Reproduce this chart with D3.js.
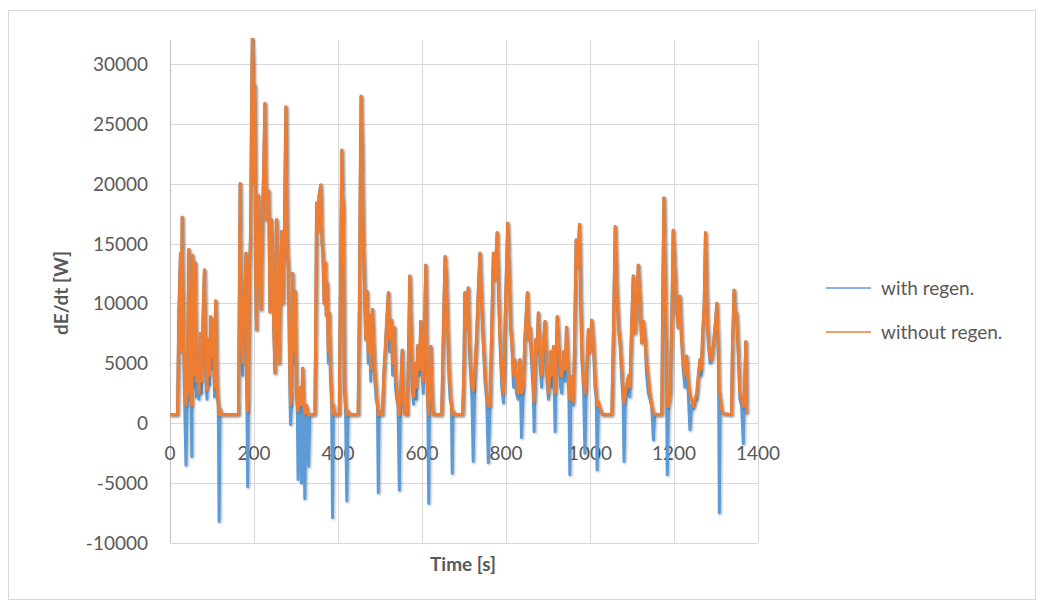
<!DOCTYPE html>
<html>
<head>
<meta charset="utf-8">
<script src="https://cdn.jsdelivr.net/npm/d3@7"></script>
<style>
  body { margin: 0; background: #fff; }
  svg text { font-family: Lato, "Open Sans", sans-serif; fill: #595959; }
</style>
</head>
<body>
<div id="chart"></div>
<script>
// time stamps [s]
var time = [0,18,21,25,27,29,32,35,38,41,45,48,50,52,54,57,60,63,66,69,72,75,78,82,85,88,91,94,97,100,103,106,109,112,115,117,119,123,163,
165,167,170,173,176,179,181,183,185,187,189,192,194,196,198,200,202,204,206,208,211,214,217,220,223,226,229,232,235,238,241,244,247,250,254,257,260,263,266,269,272,276,279,282,285,287,290,292,295,298,301,303,305,307,310,313,316,318,321,324,327,330,333,345,
347,349,352,355,359,362,364,367,370,372,374,377,379,382,385,387,389,392,403,406,409,411,413,415,418,421,424,428,448,451,453,455,458,460,463,466,469,472,475,478,482,485,488,491,494,496,498,502,
506,509,512,516,520,523,527,530,534,537,540,543,546,549,553,556,560,565,568,571,574,577,580,584,587,590,594,597,600,603,606,609,612,614,616,618,621,624,627,647,
650,653,655,658,661,664,667,670,672,674,678,697,700,702,706,710,713,716,719,722,726,730,734,738,742,746,750,754,758,762,766,770,774,779,783,786,790,794,799,804,808,811,814,818,821,825,829,833,837,841,845,848,851,854,857,861,865,867,871,874,877,881,885,889,893,897,901,904,907,910,913,917,920,922,925,927,930,933,936,938,941,944,948,950,952,955,958,960,963,967,971,975,978,981,985,988,991,996,1000,1004,1008,1012,1015,1017,1020,1025,1030,1052,
1056,1060,1064,1068,1072,1076,1079,1081,1084,1088,1092,1095,1099,1103,1107,1111,1115,1119,1123,1127,1131,1135,1139,1143,1147,1151,1154,1171,1173,1176,1179,1182,1184,1187,1191,1195,1198,1203,1206,1210,1214,1218,1222,1226,1230,1234,1238,1242,1246,1250,1254,1258,1262,1265,1268,1272,1275,1279,1282,1286,1290,1295,1299,1302,1306,1308,1310,1313,1317,1337,1339,1343,1346,1349,1353,1357,1361,1365,1368,1371,1373];

// power without regeneration [W]
var withoutRegen = [700,700,9000,14200,6000,17200,8000,3000,1500,2500,14500,3000,1800,1500,14000,4000,13400,3500,5000,2500,7500,3500,8000,12800,5000,2800,7000,4000,8900,5500,8600,3000,10200,3500,1500,700,1200,700,700,
10000,20000,8000,5000,10000,12000,14200,3000,1000,2500,12000,16000,25000,32100,30000,20000,28200,12000,7800,15000,19000,12000,9500,17000,21000,26700,17000,18000,19400,9300,17000,15000,8000,4200,17000,11000,5000,12000,16000,10000,15000,26400,15000,12700,5000,1500,2800,12500,6000,11000,3500,1500,1000,2500,3000,1500,4600,2000,800,1500,1200,700,700,700,
8000,18400,16000,19000,19900,15000,14300,10000,13400,9000,11700,6000,9200,5000,2000,800,1500,700,700,12000,22800,19000,18000,4000,1500,700,1000,700,700,10000,20000,27300,22000,16000,11300,7000,11000,6000,9000,4500,9500,7000,4500,3000,1500,700,1000,700,
700,4000,5800,8500,10900,7000,8600,5000,8000,4000,3000,1500,700,2500,6100,2000,700,700,6000,12300,8000,4500,2200,5000,3000,6500,4500,8500,5500,3500,8000,13200,5000,1500,700,3000,6400,2500,700,700,
6000,11000,13900,12000,8000,5000,3000,1500,700,1000,700,700,5000,10900,8000,11300,7000,5000,3000,2700,4500,7200,11000,14200,10000,6700,4500,2500,1500,1400,8000,14200,12000,15900,10000,6700,4000,2500,10000,16700,12000,8000,6700,4000,5300,3500,2500,5300,2500,3000,7000,9000,10900,7000,8000,6000,3500,1800,7000,6000,9200,6000,4000,6500,8500,5000,2500,4000,6000,4000,6400,2500,6000,8900,7000,6000,4000,3900,5000,6000,4500,8000,5000,3000,2000,3900,2500,1800,6000,15300,13000,16600,10000,5300,3500,2500,3500,7800,6000,8600,6700,4000,2500,1500,1800,1200,700,700,
8000,16400,10900,8000,6500,4700,2500,1700,2500,3400,4000,3000,8000,12300,7500,9000,13200,10500,6700,8500,7000,5000,3900,2500,1400,1000,700,700,10000,18800,12000,6000,1400,1400,2500,9000,16100,12000,9500,8000,10600,7000,5300,4000,5600,3500,2500,2000,1400,2000,2500,4000,5300,4500,7200,10000,15900,9000,6700,5500,5300,7000,8500,10000,6000,2500,2500,1200,800,700,6000,11100,9000,9200,6000,2500,2000,1400,3000,6800,800];

// power with regeneration [W]
var withRegen = [700,700,9000,14200,6000,17200,7000,1800,-3500,2000,14500,2000,1800,-2800,14000,3000,13400,2200,5000,2000,7500,2500,8000,12800,4000,2000,7000,3200,8900,4500,8600,2200,10200,2500,1500,-8200,1200,700,700,
10000,20000,7000,4000,10000,12000,14200,2000,-5300,2000,12000,16000,25000,32100,30000,20000,28200,12000,7800,15000,19000,12000,9500,17000,21000,26700,17000,18000,19400,9300,17000,15000,8000,4200,17000,11000,5000,12000,16000,10000,15000,26400,15000,12700,4000,-100,2000,12500,5000,11000,2500,1500,-4700,2000,1500,-5000,4600,1500,-6300,1500,1000,-3600,700,700,
8000,18400,16000,19000,19900,15000,14300,10000,13400,9000,11700,5000,9200,4000,1500,-7900,1500,700,700,12000,22800,19000,18000,3000,1200,-6500,1000,700,700,10000,20000,27300,22000,16000,11300,7000,11000,5000,9000,3500,9500,6000,3500,2000,1500,-5800,1000,700,
700,4000,5800,8500,10900,6000,8600,4000,8000,3000,2000,1500,-5600,2500,6100,1500,700,700,6000,12300,8000,3000,1600,5000,2000,6500,4000,8500,4500,2500,8000,13200,4000,1500,-6700,3000,6400,2000,700,700,
6000,11000,13900,12000,8000,4000,2000,1500,-4200,1000,700,700,5000,10900,8000,11300,6000,4000,2000,-3200,4000,7200,11000,14200,10000,6700,3500,2000,-3300,1400,8000,14200,12000,15900,10000,6700,3000,1700,10000,16700,12000,8000,6700,3000,5300,2500,2000,5300,-1200,2500,7000,9000,10900,7000,8000,5000,2500,-700,7000,6000,9200,5000,3000,6500,8500,4000,2000,4000,6000,3000,6400,-700,6000,8900,7000,5000,3000,2500,5000,6000,3500,8000,4000,2000,-4300,3500,2000,1500,6000,15300,13000,16600,10000,5300,2500,-2500,3000,7800,6000,8600,6700,3000,2000,-3900,1400,1000,700,700,
8000,16400,10900,8000,6500,3500,1800,-3200,2000,2500,3000,2200,8000,12300,7500,9000,13200,10500,6700,8500,7000,4000,2500,2000,1400,-1400,700,700,10000,18800,12000,5000,-4300,1400,2500,9000,16100,12000,9500,8000,10600,7000,4500,3000,5600,2500,-550,1500,1200,1800,2000,4000,5300,4000,7200,10000,15900,9000,6700,5000,5300,7000,8500,10000,5000,-7500,2000,1000,800,700,6000,11100,9000,9200,6000,2000,1500,-1700,3000,6800,800];

var yTicks = [-10000, -5000, 0, 5000, 10000, 15000, 20000, 25000, 30000];
var xTicks = [0, 200, 400, 600, 800, 1000, 1200, 1400];

var seriesNames = ["with regen.", "without regen."];
var seriesColors = ["#5b9bd5", "#ed7d31"];

var width = 1043;
var height = 606;

// plot area
var plot = { left: 170, right: 758, top: 40, bottom: 543 };

var svg = d3.select("#chart")
  .append("svg")
  .attr("width", width)
  .attr("height", height);

// chart border
svg.append("rect")
  .attr("x", 8.5)
  .attr("y", 10.5)
  .attr("width", 1027)
  .attr("height", 589)
  .attr("fill", "#fff")
  .attr("stroke", "#d9d9d9");

var x = d3.scaleLinear().domain([0, 1400]).range([plot.left, plot.right]);
var y = d3.scaleLinear().domain([-10000, 32000]).range([plot.bottom, plot.top]);

// soft shadow like the excel line effect
var defs = svg.append("defs");
defs.append("filter")
  .attr("id", "shadow")
  .attr("x", "-5%").attr("y", "-5%")
  .attr("width", "110%").attr("height", "110%")
  .append("feDropShadow")
  .attr("dx", 1).attr("dy", 1)
  .attr("stdDeviation", 1.2)
  .attr("flood-color", "#000")
  .attr("flood-opacity", 0.3);

defs.append("clipPath")
  .attr("id", "clip")
  .append("rect")
  .attr("x", plot.left)
  .attr("y", plot.top - 2)
  .attr("width", plot.right - plot.left)
  .attr("height", plot.bottom - plot.top + 2);

// gridlines
svg.append("g")
  .selectAll("line")
  .data(yTicks)
  .enter().append("line")
  .attr("x1", plot.left).attr("x2", plot.right)
  .attr("y1", function(d) { return Math.round(y(d)) + 0.5; })
  .attr("y2", function(d) { return Math.round(y(d)) + 0.5; })
  .attr("stroke", "#d9d9d9");

svg.append("g")
  .selectAll("line")
  .data(xTicks.slice(1))
  .enter().append("line")
  .attr("x1", function(d) { return Math.round(x(d)) + 0.5; })
  .attr("x2", function(d) { return Math.round(x(d)) + 0.5; })
  .attr("y1", plot.top).attr("y2", plot.bottom)
  .attr("stroke", "#d9d9d9");

// vertical axis line
svg.append("line")
  .attr("x1", plot.left + 0.5).attr("x2", plot.left + 0.5)
  .attr("y1", plot.top).attr("y2", plot.bottom)
  .attr("stroke", "#bfbfbf");

// tick labels
svg.append("g")
  .selectAll("text")
  .data(yTicks)
  .enter().append("text")
  .attr("x", 148)
  .attr("y", function(d) { return y(d) + 7; })
  .attr("text-anchor", "end")
  .style("font-size", "19px")
  .text(function(d) { return d; });

svg.append("g")
  .selectAll("text")
  .data(xTicks)
  .enter().append("text")
  .attr("x", function(d) { return x(d); })
  .attr("y", y(0) + 37)
  .attr("text-anchor", "middle")
  .style("font-size", "19px")
  .text(function(d) { return d; });

// axis titles
svg.append("text")
  .attr("x", 463)
  .attr("y", 571)
  .attr("text-anchor", "middle")
  .style("font-size", "19px")
  .style("font-weight", "bold")
  .text("Time [s]");

svg.append("text")
  .attr("transform", "translate(68,293) rotate(-90)")
  .attr("text-anchor", "middle")
  .style("font-size", "19px")
  .style("font-weight", "bold")
  .text("dE/dt [W]");

// the two lines
var data = time.map(function(t, i) {
  return { t: t, with: withRegen[i], without: withoutRegen[i] };
});

var lineWith = d3.line()
  .x(function(d) { return x(d.t); })
  .y(function(d) { return y(d.with); });

var lineWithout = d3.line()
  .x(function(d) { return x(d.t); })
  .y(function(d) { return y(d.without); });

var lines = svg.append("g").attr("clip-path", "url(#clip)");

lines.append("path")
  .datum(data)
  .attr("fill", "none")
  .attr("stroke", seriesColors[0])
  .attr("stroke-width", 3)
  .attr("stroke-linejoin", "round")
  .attr("filter", "url(#shadow)")
  .attr("d", lineWith);

lines.append("path")
  .datum(data)
  .attr("fill", "none")
  .attr("stroke", seriesColors[1])
  .attr("stroke-width", 3)
  .attr("stroke-linejoin", "round")
  .attr("filter", "url(#shadow)")
  .attr("d", lineWithout);

// legend
var legend = svg.append("g")
  .selectAll("g")
  .data(seriesNames)
  .enter().append("g")
  .attr("transform", function(d, i) { return "translate(826," + (288 + i * 44) + ")"; });

legend.append("line")
  .attr("x1", 0).attr("x2", 45)
  .attr("stroke", function(d, i) { return seriesColors[i]; })
  .attr("stroke-width", 1.5);

legend.append("text")
  .attr("x", 55)
  .attr("y", 7)
  .style("font-size", "19px")
  .text(function(d) { return d; });
</script>
</body>
</html>
